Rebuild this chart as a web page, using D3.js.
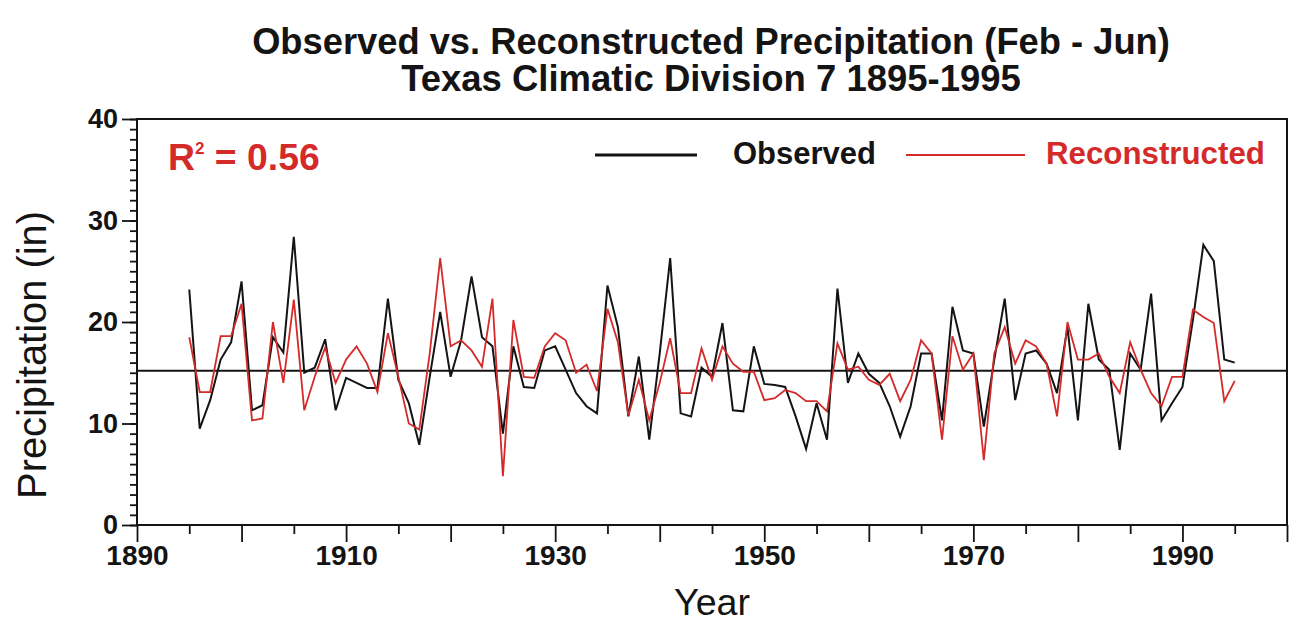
<!DOCTYPE html>
<html><head><meta charset="utf-8">
<script src="https://cdn.jsdelivr.net/npm/d3@7"></script>
<style>body{margin:0;background:#fff;}svg{display:block;font-family:"Liberation Sans",Arial,sans-serif;}</style>
</head><body>
<svg id="c" width="1293" height="625"></svg>
<script>
const years = d3.range(1895, 1996);
const observed = [23.2,9.5,12.3,16.3,18.0,24.0,11.3,11.8,18.5,17.0,
28.4,15.0,15.5,18.3,11.3,14.5,14.0,13.5,13.5,22.3,
14.3,12.0,7.9,14.6,21.0,14.6,18.2,24.5,18.5,17.6,
9.0,17.6,13.6,13.5,17.2,17.6,15.3,13.0,11.7,11.0,
23.6,19.5,10.7,16.6,8.4,16.9,26.3,11.0,10.7,15.5,
14.6,19.9,11.3,11.2,17.6,13.9,13.8,13.6,10.7,7.5,
12.0,8.4,23.3,14.0,16.9,14.9,14.0,11.7,8.7,11.7,
16.9,16.9,10.3,21.5,17.2,16.9,9.7,16.3,22.3,12.3,
16.9,17.2,15.9,13.0,19.5,10.3,21.8,16.3,15.3,7.4,
16.9,15.3,22.8,10.3,12.0,13.6,20.2,27.6,26.0,16.3,16.0];
const reconstructed = [18.5,13.1,13.1,18.6,18.6,21.8,10.3,10.5,20.0,14.0,
22.2,11.3,14.6,17.5,14.0,16.3,17.6,15.9,13.1,18.9,
14.6,10.0,9.4,16.9,26.3,17.6,18.2,17.2,15.6,22.3,
4.8,20.2,14.6,14.5,17.6,18.9,18.2,15.0,15.8,13.2,
21.3,18.0,10.8,14.3,10.3,14.0,18.4,13.0,13.0,17.4,
14.3,17.6,15.9,15.1,15.1,12.3,12.5,13.3,13.0,12.2,
12.2,11.2,17.9,15.3,15.6,14.3,13.8,14.9,12.2,14.3,
18.2,16.9,8.4,18.6,15.3,16.9,6.4,16.9,19.5,15.9,
18.2,17.6,15.9,10.7,20.0,16.3,16.3,16.9,14.6,13.0,
18.0,15.3,13.0,11.7,14.6,14.6,21.2,20.5,19.9,12.2,14.2];
const meanValue = 15.2;
const xTickLabels = [1890, 1910, 1930, 1950, 1970, 1990];
const yTickLabels = [0, 10, 20, 30, 40];
const titleLines = ["Observed vs. Reconstructed Precipitation (Feb - Jun)", "Texas Climatic Division 7 1895-1995"];

const svg = d3.select("#c");
const L = 137, R = 1287, T = 119, B = 525;
const x = d3.scaleLinear().domain([1890, 2000]).range([L, R]);
const y = d3.scaleLinear().domain([0, 40]).range([B, T]);
const red = "#d42a2a";
const ink = "#141414";

function fit(sel, w) {
  const cur = parseFloat(sel.attr("font-size"));
  const len = sel.node().getComputedTextLength();
  sel.attr("font-size", cur * w / len);
}

// titles
const t1 = svg.append("text").attr("x", 711).attr("y", 54).attr("text-anchor", "middle")
  .attr("font-size", 30).attr("font-weight", "bold").attr("fill", ink).text(titleLines[0]);
fit(t1, 918);
const t2 = svg.append("text").attr("x", 711).attr("y", 91).attr("text-anchor", "middle")
  .attr("font-size", 30).attr("font-weight", "bold").attr("fill", ink).text(titleLines[1]);
fit(t2, 620);

// axes
const yMinor = svg.append("g").attr("transform", `translate(${L},0)`)
  .call(d3.axisLeft(y).tickValues(d3.range(0, 41, 1)).tickSize(7).tickFormat(""));
const yMajor = svg.append("g").attr("transform", `translate(${L},0)`)
  .call(d3.axisLeft(y).tickValues(yTickLabels).tickSize(15).tickPadding(4).tickFormat(d3.format("d")));
const xMinor = svg.append("g").attr("transform", `translate(0,${B})`)
  .call(d3.axisBottom(x).tickValues(d3.range(1895, 2000, 10)).tickSize(9).tickFormat(""));
const xMajor = svg.append("g").attr("transform", `translate(0,${B})`)
  .call(d3.axisBottom(x).tickValues(d3.range(1890, 2001, 10)).tickSize(17).tickPadding(9).tickFormat(d => xTickLabels.includes(d) ? d : ""));
[yMinor, yMajor, xMinor, xMajor].forEach(g => {
  g.select(".domain").remove();
  g.selectAll("line").attr("stroke", ink).attr("stroke-width", 1.8);
});
yMajor.selectAll("text").attr("font-size", 27).attr("font-weight", "bold").attr("fill", ink).attr("dy", "0.33em");
xMajor.selectAll("text").attr("font-size", 28).attr("font-weight", "bold").attr("fill", ink).attr("dy", "0.5em");

// frame
svg.append("rect").attr("x", L).attr("y", T).attr("width", R - L).attr("height", B - T)
  .attr("fill", "none").attr("stroke", ink).attr("stroke-width", 2);

// mean line
svg.append("line").attr("x1", L).attr("x2", R).attr("y1", y(meanValue)).attr("y2", y(meanValue))
  .attr("stroke", ink).attr("stroke-width", 2);

const line = d3.line().x((d, i) => x(years[i])).y(d => y(d));
svg.append("path").datum(observed).attr("d", line).attr("fill", "none")
  .attr("stroke", ink).attr("stroke-width", 2);
svg.append("path").datum(reconstructed).attr("d", line).attr("fill", "none")
  .attr("stroke", red).attr("stroke-width", 1.8);

// R^2
const r2 = svg.append("text").attr("x", 168).attr("y", 170).attr("font-size", 28)
  .attr("font-weight", "bold").attr("fill", red);
r2.append("tspan").text("R");
r2.append("tspan").attr("dy", -16).attr("font-size", 17).text("2");
r2.append("tspan").attr("dy", 16).text(" = 0.56");
fit(r2, 155);

// legend
svg.append("line").attr("x1", 595).attr("x2", 697).attr("y1", 155).attr("y2", 155).attr("stroke", ink).attr("stroke-width", 3);
const lo = svg.append("text").attr("x", 733).attr("y", 164).attr("font-size", 24).attr("font-weight", "bold").attr("fill", ink).text("Observed");
fit(lo, 143);
svg.append("line").attr("x1", 906).attr("x2", 1025).attr("y1", 155).attr("y2", 155).attr("stroke", red).attr("stroke-width", 2);
const lr = svg.append("text").attr("x", 1046).attr("y", 164).attr("font-size", 24).attr("font-weight", "bold").attr("fill", red).text("Reconstructed");
fit(lr, 219);

// axis titles
const xl = svg.append("text").attr("x", 712).attr("y", 615).attr("text-anchor", "middle").attr("font-size", 30).attr("fill", ink).text("Year");
fit(xl, 76);
const yl = svg.append("text").attr("transform", "translate(46,355) rotate(-90)").attr("text-anchor", "middle")
  .attr("font-size", 28).attr("fill", ink).text("Precipitation (in)");
fit(yl, 288);
</script>
</body></html>
